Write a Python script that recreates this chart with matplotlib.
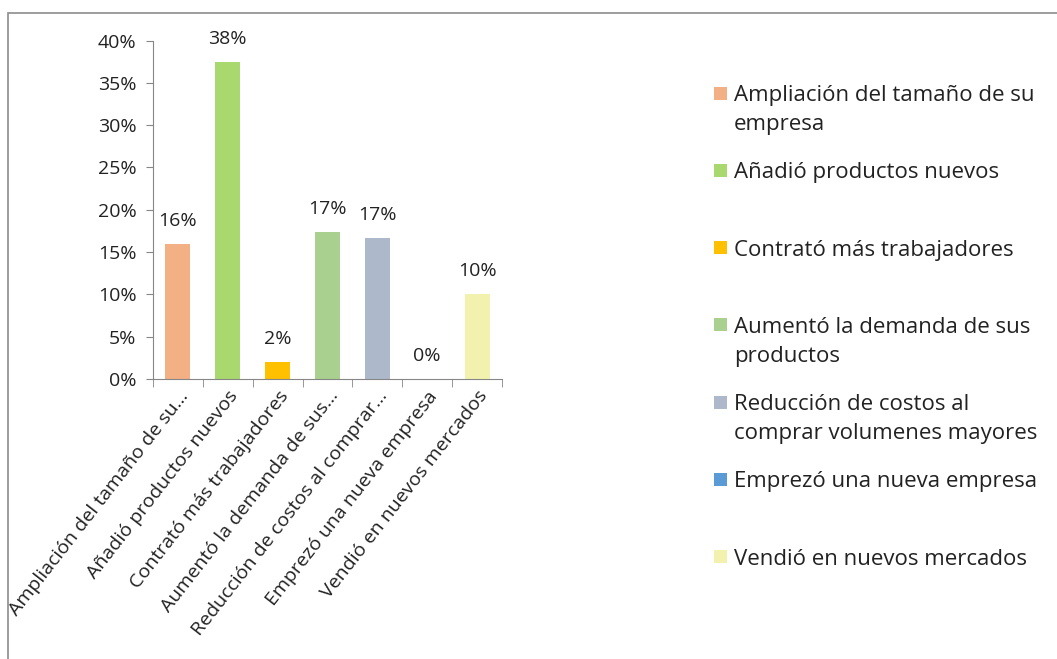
import numpy as np
import matplotlib.pyplot as plt
from matplotlib.patches import Rectangle
from matplotlib.ticker import FixedLocator, PercentFormatter

plt.rcParams['font.family'] = ['Open Sans', 'DejaVu Sans']

# datos de la encuesta
categorias = ['Ampliación del tamaño de su empresa',
              'Añadió productos nuevos',
              'Contrató más trabajadores',
              'Aumentó la demanda de sus productos',
              'Reducción de costos al comprar volumenes mayores',
              'Emprezó una nueva empresa',
              'Vendió en nuevos mercados']
etiquetas_eje = ['Ampliación del tamaño de su…',
                 'Añadió productos nuevos',
                 'Contrató más trabajadores',
                 'Aumentó la demanda de sus…',
                 'Reducción de costos al comprar…',
                 'Emprezó una nueva empresa',
                 'Vendió en nuevos mercados']
etiquetas_leyenda = ['Ampliación del tamaño de su\nempresa',
                     'Añadió productos nuevos',
                     'Contrató más trabajadores',
                     'Aumentó la demanda de sus\nproductos',
                     'Reducción de costos al\ncomprar volumenes mayores',
                     'Emprezó una nueva empresa',
                     'Vendió en nuevos mercados']
porcentajes = [16.0, 37.5, 2.0, 17.4, 16.7, 0.0, 10.0]
colores = ['#F2B084', '#A9D86E', '#FFC000', '#A9D08E', '#ADB9CA', '#5B9BD5', '#F2F2AE']

fs = 14
fs_ley = 16
fig = plt.figure(figsize=(10.57, 6.59), dpi=100)
W, H = 1057, 659

# marco exterior del grafico
fig.patches.append(Rectangle((8 / W, -0.1), 1.2, 1 - 12.5 / H + 0.1,
                             transform=fig.transFigure, fill=False,
                             edgecolor='#8C8C8C', linewidth=1.2))

ax = fig.add_axes([153 / W, (H - 379) / H, 349 / W, 338.5 / H])
x = np.arange(len(categorias))
ax.bar(x, porcentajes, width=0.5, color=colores)

for xi, v in zip(x, porcentajes):
    ax.annotate('{:.0f}%'.format(v), (xi, v), xytext=(0, 10), textcoords='offset points',
                ha='center', va='bottom', fontsize=fs, color='#222222')

ax.set_xlim(-0.5, len(categorias) - 0.5)
ax.set_ylim(0, 40)
ax.set_yticks(np.arange(0, 41, 5))
ax.yaxis.set_major_formatter(PercentFormatter(decimals=0))
ax.tick_params(axis='y', labelsize=fs, length=5, color='#868686', pad=7, labelcolor='#222222')

ax.set_xticks(x)
ax.set_xticklabels(etiquetas_eje, rotation=52, ha='right', rotation_mode='anchor',
                   fontsize=fs, color='#222222')
ax.tick_params(axis='x', which='major', length=0, pad=6)
ax.xaxis.set_minor_locator(FixedLocator(np.arange(-0.5, len(categorias), 1)))
ax.tick_params(axis='x', which='minor', length=6, color='#868686')

for s in ['top', 'right']:
    ax.spines[s].set_visible(False)
for s in ['left', 'bottom']:
    ax.spines[s].set_color('#868686')

# leyenda dibujada a mano
y0 = 93
paso = 77.3
for i, (lab, c) in enumerate(zip(etiquetas_leyenda, colores)):
    yc = y0 + i * paso
    fig.patches.append(Rectangle((714 / W, (H - yc - 6.5) / H), 13 / W, 13 / H,
                                 transform=fig.transFigure, facecolor=c, edgecolor='none'))
    fig.text(734 / W, (H - yc + 8) / H, lab, ha='left', va='top', fontsize=fs_ley,
             color='#222222', linespacing=1.5)

fig.savefig('out.png', dpi=100)
